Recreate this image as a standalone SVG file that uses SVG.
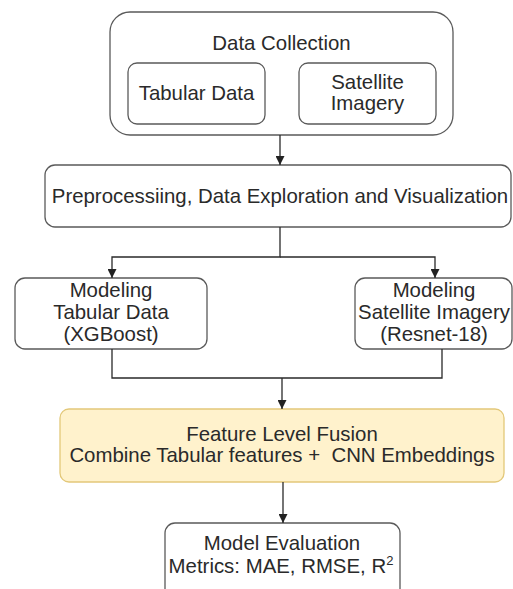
<svg xmlns="http://www.w3.org/2000/svg" width="513" height="589" viewBox="0 0 513 589">
  <defs>
    <marker id="arrow" viewBox="0 0 10 10" refX="10" refY="5" markerWidth="9" markerHeight="9" markerUnits="userSpaceOnUse" orient="auto">
      <path d="M0,0 L10,5 L0,10 z" fill="#222"/>
    </marker>
    <style>
      .box { fill: #ffffff; stroke: #5a5a5a; stroke-width: 1.3; }
      .fusion { fill: #fff2cc; stroke: #e3c879; stroke-width: 1.3; }
      .label { font-family: "Liberation Sans", Arial, sans-serif; font-size: 20.4px; fill: #2a2a2a; text-anchor: middle; }
      .edge { fill: none; stroke: #2a2a2a; stroke-width: 1.3; }
    </style>
  </defs>
  <rect width="513" height="589" fill="#ffffff"/>

  <g id="data-collection">
    <rect class="box" x="110" y="12" width="343" height="123" rx="20"/>
    <text class="label" x="281.5" y="50">Data Collection</text>
  </g>
  <g id="tabular-data">
    <rect class="box" x="128" y="63" width="137" height="61" rx="9"/>
    <text class="label" x="196.5" y="100">Tabular Data</text>
  </g>
  <g id="satellite-imagery">
    <rect class="box" x="299" y="63" width="137" height="61" rx="9"/>
    <text class="label" x="367.5" y="89">Satellite</text>
    <text class="label" x="367.5" y="110">Imagery</text>
  </g>

  <g id="preprocessing">
    <rect class="box" x="45" y="165" width="466" height="62" rx="10"/>
    <text class="label" x="280" y="203">Preprocessiing, Data Exploration and Visualization</text>
  </g>

  <g id="model-tabular">
    <rect class="box" x="15" y="278" width="192" height="71" rx="10"/>
    <text class="label" x="111" y="297">Modeling</text>
    <text class="label" x="111" y="319">Tabular Data</text>
    <text class="label" x="111" y="341">(XGBoost)</text>
  </g>
  <g id="model-satellite">
    <rect class="box" x="355" y="278" width="157" height="71" rx="10"/>
    <text class="label" x="434" y="297">Modeling</text>
    <text class="label" x="434" y="319">Satellite Imagery</text>
    <text class="label" x="434" y="341">(Resnet-18)</text>
  </g>

  <g id="fusion">
    <rect class="fusion" x="60" y="409" width="444" height="73" rx="9"/>
    <text class="label" x="282" y="441">Feature Level Fusion</text>
    <text class="label" x="282" y="462" xml:space="preserve">Combine Tabular features +  CNN Embeddings</text>
  </g>

  <g id="evaluation">
    <rect class="box" x="165" y="523" width="235" height="90" rx="10"/>
    <text class="label" x="282" y="550">Model Evaluation</text>
    <text class="label" x="281" y="573">Metrics: MAE, RMSE, R<tspan dy="-8" font-size="13">2</tspan></text>
  </g>

  <g id="connectors">
    <path class="edge" d="M280,135 V165" marker-end="url(#arrow)"/>
    <path class="edge" d="M280,227 V257 H112 V278" marker-end="url(#arrow)"/>
    <path class="edge" d="M280,257 H435 V278" marker-end="url(#arrow)"/>
    <path class="edge" d="M112,349 V378 H442 V349"/>
    <path class="edge" d="M282,378 V409" marker-end="url(#arrow)"/>
    <path class="edge" d="M283,482 V523" marker-end="url(#arrow)"/>
  </g>
</svg>
